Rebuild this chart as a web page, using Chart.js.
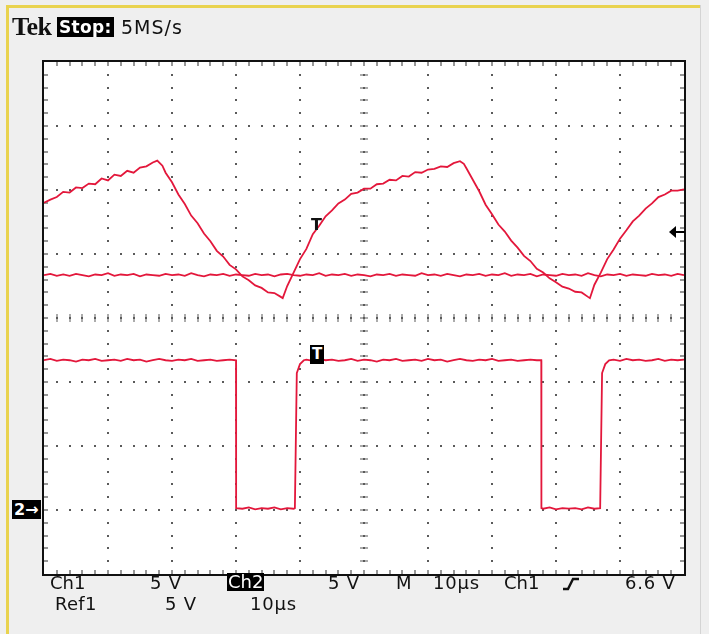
<!DOCTYPE html>
<html>
<head>
<meta charset="utf-8">
<script src="https://cdn.jsdelivr.net/npm/chart.js@4/dist/chart.umd.min.js"></script>
<style>
  html, body { margin:0; padding:0; background:#efefef; }
  #wrap { position:relative; width:709px; height:634px; overflow:hidden; background:#efefef; }
  #yl { position:absolute; left:6px; top:5px; width:3px; height:629px; background:#e9d34f; }
  #yt { position:absolute; left:6px; top:5px; width:695px; height:3px; background:#e9d34f; }
  #rl { position:absolute; left:700px; top:5px; width:1px; height:629px; background:#d4d4d4; }
  canvas { position:absolute; left:0; top:0; }
  .t { position:absolute; font-family:"DejaVu Sans", sans-serif; font-size:18px; line-height:19px; color:#111; white-space:nowrap; letter-spacing:0.8px; }
  .inv { background:#000; color:#fff; }
</style>
</head>
<body>
<div id="wrap">
  <div id="yl"></div><div id="yt"></div><div id="rl"></div>
  <canvas id="c" width="709" height="634"></canvas>

  <div class="t" style="left:12px;top:14px;font-family:'Liberation Serif',serif;font-weight:bold;font-size:26px;line-height:26px;letter-spacing:-0.5px">Tek</div>
  <div class="t inv" style="left:57px;top:17px;font-weight:bold;font-size:17px;line-height:20px;padding:0 2px;letter-spacing:0.3px">Stop:</div>
  <div class="t" style="left:121px;top:17px;font-size:19px;line-height:20px;letter-spacing:1px">5MS/s</div>

  <div class="t" style="left:50px;top:573px;letter-spacing:0">Ch1</div>
  <div class="t" style="left:150px;top:573px">5 V</div>
  <div class="t inv" style="left:227px;top:573px;padding:0 1px;line-height:18px;letter-spacing:0">Ch2</div>
  <div class="t" style="left:328px;top:573px">5 V</div>
  <div class="t" style="left:396px;top:573px">M</div>
  <div class="t" style="left:433px;top:573px">10µs</div>
  <div class="t" style="left:504px;top:573px;letter-spacing:0">Ch1</div>
  <svg style="position:absolute;left:562px;top:577px" width="18" height="14"><polyline points="1,12 6,12 11,2 17,2" fill="none" stroke="#111" stroke-width="2.4"/></svg>
  <div class="t" style="left:625px;top:573px">6.6 V</div>

  <div class="t" style="left:55px;top:594px;letter-spacing:0.3px">Ref1</div>
  <div class="t" style="left:165px;top:594px">5 V</div>
  <div class="t" style="left:250px;top:594px">10µs</div>

  <div class="t inv" style="left:12px;top:500px;font-weight:bold;font-size:16px;line-height:19px;padding:0 2px;letter-spacing:0">2→</div>
  <div class="t" style="left:311px;top:215px;font-weight:bold;font-size:16px;letter-spacing:0">T</div>
  <div class="t inv" style="left:310px;top:345px;font-weight:bold;font-size:15px;line-height:19px;padding:0 2px;letter-spacing:0">T</div>
  <svg style="position:absolute;left:668px;top:225px" width="17" height="14"><polygon points="1,7 8,1 8,13" fill="#000"/><line x1="7" y1="7" x2="17" y2="7" stroke="#000" stroke-width="2"/></svg>
</div>

<script>
// ---- Graticule settings (time in µs, vertical in divisions) ----
const X_MIN = 0, X_MAX = 100, X_DIV = 10;
const Y_MIN = -4, Y_MAX = 4, Y_DIV = 1;

// ---- Ch1: sawtooth-like trace (time µs, divisions) ----
const ch1T = [0,1,2,3,4,5,6,7,8,9,10,11,12,13,14,15,16,17,17.7,18.5,
  19,20,21,22,23,24,25,26,27,28,29,30,31,32,33,34,35,36,37,37.3,
  38,39,40,41,42,43,44,45,46,47,48,49,50,51,52,53,54,55,56,57,58,59,60,61,62,63,64,65,65.6,
  66,67,68,69,70,71,72,73,74,75,76,77,78,79,80,81,82,83,84,85,85.3,
  86,87,88,89,90,91,92,93,94,95,96,97,98,99,100];
const ch1V = [1.80,1.85,1.89,1.97,1.96,2.04,2.03,2.10,2.09,2.18,2.15,2.24,2.22,2.30,2.27,2.35,2.37,2.43,2.46,2.38,
  2.27,2.12,1.93,1.78,1.60,1.48,1.32,1.20,1.05,0.96,0.83,0.76,0.65,0.59,0.51,0.47,0.40,0.39,0.33,0.31,
  0.50,0.71,0.92,1.08,1.31,1.44,1.59,1.68,1.79,1.85,1.94,1.96,2.02,2.02,2.09,2.10,2.16,2.15,2.22,2.21,2.28,2.27,2.32,2.33,2.37,2.36,2.42,2.45,2.41,
  2.34,2.16,1.98,1.77,1.62,1.46,1.35,1.21,1.10,0.97,0.89,0.77,0.71,0.62,0.56,0.49,0.46,0.41,0.40,0.33,0.31,
  0.52,0.71,0.92,1.07,1.24,1.37,1.51,1.60,1.71,1.79,1.89,1.93,1.99,1.99,2.01];

// ---- Ref1: flat reference trace ----
const ref1T = [0,1,2,3,4,5,6,7,8,9,10,11,12,13,14,15,16,17,18,19,20,21,22,23,24,25,26,27,28,29,30,
  31,32,33,34,35,36,37,38,39,40,41,42,43,44,45,46,47,48,49,50,51,52,53,54,55,56,57,58,59,60,
  61,62,63,64,65,66,67,68,69,70,71,72,73,74,75,76,77,78,79,80,81,82,83,84,85,86,87,88,89,90,
  91,92,93,94,95,96,97,98,99,100];
const ref1V = [0.67,0.69,0.66,0.68,0.66,0.69,0.67,0.65,0.68,0.67,0.70,0.66,0.68,0.67,0.69,0.65,0.68,0.67,0.66,0.69,0.67,
  0.68,0.66,0.70,0.67,0.65,0.68,0.67,0.69,0.66,0.68,0.67,0.66,0.69,0.67,0.68,0.65,0.68,0.69,0.67,0.66,
  0.68,0.67,0.70,0.66,0.68,0.67,0.69,0.66,0.68,0.67,0.65,0.68,0.67,0.69,0.66,0.68,0.67,0.66,0.70,0.67,
  0.68,0.66,0.69,0.67,0.65,0.68,0.67,0.69,0.66,0.68,0.67,0.70,0.66,0.68,0.67,0.69,0.65,0.68,0.67,0.66,
  0.69,0.67,0.68,0.66,0.70,0.67,0.65,0.68,0.67,0.69,0.66,0.68,0.67,0.66,0.69,0.67,0.68,0.66,0.69,0.67];

// ---- Ch2: square wave ----
const ch2T = [0,1,2,3,4,5,6,7,8,9,10,11,12,13,14,15,16,17,18,19,20,21,22,23,24,25,26,27,28,29,
  30,30.02,31,32,33,34,35,36,37,38,39,39.2,39.5,40,40.6,
  41,42,43,44,45,46,47,48,49,50,51,52,53,54,55,56,57,58,59,60,61,62,63,64,65,66,67,68,69,70,71,72,73,74,75,76,77,
  77.7,77.72,78,79,80,81,82,83,84,85,86,86.9,87.2,87.7,88.3,
  89,90,91,92,93,94,95,96,97,98,99,100];
const ch2V = [-0.66,-0.64,-0.67,-0.65,-0.66,-0.68,-0.65,-0.66,-0.64,-0.67,-0.66,-0.65,-0.67,-0.64,-0.66,-0.65,-0.68,-0.66,-0.64,-0.66,-0.67,-0.65,-0.66,-0.64,-0.67,-0.66,-0.65,-0.67,-0.66,-0.65,
  -0.66,-2.97,-2.98,-2.96,-2.99,-2.97,-2.98,-2.96,-2.99,-2.97,-2.98,-2.97,-0.86,-0.72,-0.66,
  -0.65,-0.67,-0.64,-0.66,-0.65,-0.67,-0.66,-0.64,-0.67,-0.65,-0.66,-0.68,-0.65,-0.66,-0.64,-0.67,-0.66,-0.65,-0.67,-0.64,-0.66,-0.65,-0.68,-0.66,-0.64,-0.66,-0.67,-0.65,-0.66,-0.64,-0.67,-0.66,-0.65,-0.67,-0.66,-0.65,-0.66,
  -0.66,-2.97,-2.98,-2.96,-2.99,-2.97,-2.98,-2.97,-2.99,-2.96,-2.98,-2.97,-0.86,-0.72,-0.66,
  -0.65,-0.67,-0.64,-0.66,-0.65,-0.67,-0.66,-0.64,-0.67,-0.65,-0.66,-0.65];

const TRACE = '#e3173b';

function pts(t, v) {
  const n = Math.min(t.length, v.length), out = [];
  for (let i = 0; i < n; i++) out.push({ x: t[i], y: v[i] });
  return out;
}

const graticule = {
  id: 'graticule',
  beforeDatasetsDraw(chart) {
    const { ctx, scales: { x, y } } = chart;
    const L = x.getPixelForValue(X_MIN), R = x.getPixelForValue(X_MAX);
    const T = y.getPixelForValue(Y_MAX), B = y.getPixelForValue(Y_MIN);
    ctx.save();
    ctx.fillStyle = '#ffffff';
    ctx.fillRect(L, T, R - L, B - T);
    ctx.fillStyle = '#5a5a5a';
    const nx = (X_MAX - X_MIN) / X_DIV, ny = (Y_MAX - Y_MIN) / Y_DIV;
    for (let d = 1; d < nx; d++) {
      const px = Math.round(x.getPixelForValue(X_MIN + d * X_DIV));
      for (let m = 1; m < ny * 5; m++) {
        const py = Math.round(y.getPixelForValue(Y_MIN + m * Y_DIV / 5));
        ctx.fillRect(px - 1, py - 1, 2, 2);
      }
    }
    for (let d = 1; d < ny; d++) {
      const py = Math.round(y.getPixelForValue(Y_MIN + d * Y_DIV));
      for (let m = 1; m < nx * 5; m++) {
        const px = Math.round(x.getPixelForValue(X_MIN + m * X_DIV / 5));
        ctx.fillRect(px - 1, py - 1, 2, 2);
      }
    }
    const cx = Math.round(x.getPixelForValue((X_MIN + X_MAX) / 2));
    const cy = Math.round(y.getPixelForValue((Y_MIN + Y_MAX) / 2));
    for (let m = 1; m < nx * 5; m++) {
      const px = Math.round(x.getPixelForValue(X_MIN + m * X_DIV / 5));
      ctx.fillRect(px - 0.5, cy - 4, 1, 8);
    }
    for (let m = 1; m < ny * 5; m++) {
      const py = Math.round(y.getPixelForValue(Y_MIN + m * Y_DIV / 5));
      ctx.fillRect(cx - 4, py - 0.5, 8, 1);
    }
    ctx.fillStyle = '#333';
    for (let m = 1; m < nx * 5; m++) {
      const px = Math.round(x.getPixelForValue(X_MIN + m * X_DIV / 5));
      ctx.fillRect(px - 0.5, T, 1, 4);
      ctx.fillRect(px - 0.5, B - 4, 1, 4);
    }
    for (let m = 1; m < ny * 5; m++) {
      const py = Math.round(y.getPixelForValue(Y_MIN + m * Y_DIV / 5));
      ctx.fillRect(L, py - 0.5, 4, 1);
      ctx.fillRect(R - 4, py - 0.5, 4, 1);
    }
    ctx.restore();
  },
  afterDatasetsDraw(chart) {
    const { ctx, scales: { x, y } } = chart;
    const L = x.getPixelForValue(X_MIN), R = x.getPixelForValue(X_MAX);
    const T = y.getPixelForValue(Y_MAX), B = y.getPixelForValue(Y_MIN);
    ctx.save();
    ctx.strokeStyle = '#111';
    ctx.lineWidth = 2;
    ctx.strokeRect(L - 1, T - 1, R - L + 2, B - T + 2);
    ctx.restore();
  }
};

const ds = (label, data) => ({
  label, data, showLine: true, borderColor: TRACE, backgroundColor: TRACE,
  borderWidth: 1.8, pointRadius: 0, tension: 0, fill: false
});

new Chart(document.getElementById('c'), {
  type: 'line',
  data: {
    datasets: [
      ds('Ref1', pts(ref1T, ref1V)),
      ds('Ch1', pts(ch1T, ch1V)),
      ds('Ch2', pts(ch2T, ch2V))
    ]
  },
  options: {
    responsive: false,
    devicePixelRatio: 1,
    animation: false,
    layout: { padding: { left: 44, top: 62, right: 25, bottom: 60 } },
    scales: {
      x: { type: 'linear', min: X_MIN, max: X_MAX, display: false },
      y: { type: 'linear', min: Y_MIN, max: Y_MAX, display: false }
    },
    plugins: { legend: { display: false }, tooltip: { enabled: false } }
  },
  plugins: [graticule]
});
</script>
</body>
</html>
